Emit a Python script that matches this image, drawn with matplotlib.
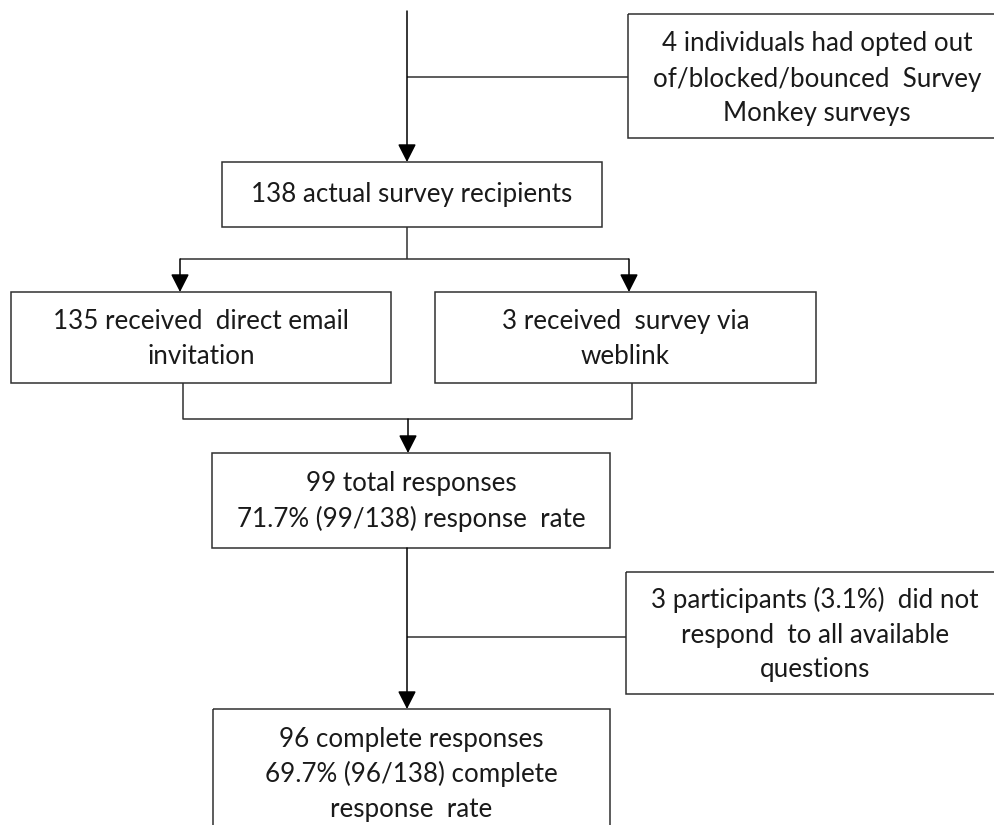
"""
Survey response flow chart: recipients -> delivery route -> responses -> complete responses.
"""

import matplotlib
matplotlib.use("Agg")
import matplotlib.pyplot as plt
from matplotlib.patches import Rectangle

# ── Box texts ─────────────────────────────────────────────────────────────────
EXCLUDED_TOP = ["4 individuals had opted out", "of/blocked/bounced  Survey", "Monkey surveys"]
RECIPIENTS = ["138 actual survey recipients"]
DIRECT = ["135 received  direct email", "invitation"]
WEBLINK = ["3 received  survey via", "weblink"]
RESPONSES = ["99 total responses", "71.7% (99/138) response  rate"]
EXCLUDED_MID = ["3 participants (3.1%)  did not", "respond  to all available", "questions"]
COMPLETE = ["96 complete responses", "69.7% (96/138) complete", "response  rate"]

# ── Style ─────────────────────────────────────────────────────────────────────
W, H = 995, 825
LINE = "#303030"
LW = 1.1
FONT = "Lato"
FS = 18.7
LINE_GAP = 35  # px between text lines

fig = plt.figure(figsize=(W / 100, H / 100), dpi=100)
ax = fig.add_axes([0, 0, 1, 1])
ax.set_xlim(0, W)
ax.set_ylim(H, 0)
ax.axis("off")


def box(x0, y0, x1, y1, lines, cx=None, cy=None):
    ax.add_patch(Rectangle((x0, y0), x1 - x0, y1 - y0, fill=False,
                           edgecolor=LINE, lw=LW, clip_on=True))
    cx = (x0 + x1) / 2 if cx is None else cx
    cy = (y0 + y1) / 2 if cy is None else cy
    n = len(lines)
    for i, t in enumerate(lines):
        y = cy + (i - (n - 1) / 2) * LINE_GAP
        ax.text(cx, y, t, ha="center", va="center", fontsize=FS,
                family=[FONT, "DejaVu Sans"], color="#1a1a1a")


def seg(points):
    xs, ys = zip(*points)
    ax.plot(xs, ys, color=LINE, lw=LW, solid_capstyle="butt")


def arrow(x, y0, y1):
    ax.annotate("", xy=(x, y1), xytext=(x, y0),
                arrowprops=dict(arrowstyle="-|>,head_length=0.55,head_width=0.28",
                                mutation_scale=20, color="black", lw=LW,
                                shrinkA=0, shrinkB=0))


# top spine with exclusion branch
arrow(407, 11, 162)
seg([(407, 77), (628, 77)])
box(628, 14, 1008, 138, EXCLUDED_TOP, cx=817, cy=79)

box(222, 162, 602, 227, RECIPIENTS)

# split into two delivery routes
seg([(407, 227), (407, 259)])
seg([(180, 259), (629, 259)])
arrow(180, 259, 292)
arrow(629, 259, 292)
box(11, 292, 391, 383, DIRECT, cy=339)
box(435, 292, 816, 383, WEBLINK, cy=339)

# merge
seg([(183, 383), (183, 419), (632, 419), (632, 383)])
arrow(408, 419, 453)
box(212, 453, 610, 548, RESPONSES, cy=501)

# exclusion of incomplete responses
arrow(407, 548, 709)
seg([(407, 637), (626, 637)])
box(626, 572, 1006, 694, EXCLUDED_MID, cx=815, cy=635)

box(213, 709, 610, 860, COMPLETE, cy=774)

fig.savefig("out.png", dpi=100, facecolor="white")
